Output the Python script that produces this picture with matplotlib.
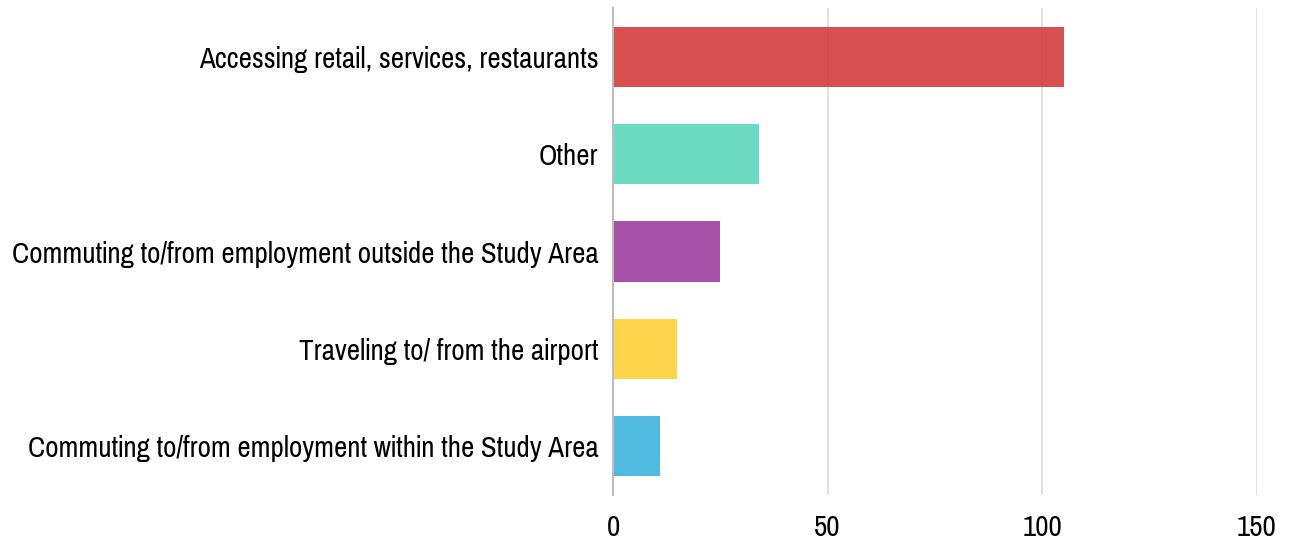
import matplotlib
matplotlib.use("Agg")
import matplotlib.pyplot as plt

# Trip purposes, top to bottom as listed
purposes = [
    "Accessing retail, services, restaurants",
    "Other",
    "Commuting to/from employment outside the Study Area",
    "Traveling to/ from the airport",
    "Commuting to/from employment within the Study Area",
]
responses = [105, 34, 25, 15, 11]
colors = ["#d43c3e", "#5dd6bc", "#9e3d9e", "#fdd13a", "#3db3de"]
x_ticks = [0, 50, 100, 150]

plt.rcParams["font.family"] = ["Pragati Narrow", "Liberation Sans", "DejaVu Sans"]

fig = plt.figure(figsize=(12.89, 5.48), dpi=100)
ax = fig.add_axes([0.4756, 0.097, 0.4994, 0.888])

ypos = list(range(len(purposes)))
ax.barh(ypos, responses, height=0.62, color=colors, alpha=0.9, zorder=2)

ax.set_ylim(len(purposes) - 0.5, -0.5)
ax.set_xlim(0, 150)
ax.set_yticks(ypos)
ax.set_yticklabels(purposes)
ax.set_xticks(x_ticks)

ax.grid(axis="x", color="#dcdcdc", linewidth=1.2, zorder=0)
for side in ["top", "right", "bottom"]:
    ax.spines[side].set_visible(False)
ax.spines["left"].set_color("#bdbdbd")
ax.spines["left"].set_linewidth(1.5)
ax.spines["left"].set_zorder(3)

ax.tick_params(axis="y", length=0, pad=10.5, labelsize=22.7)
ax.tick_params(axis="x", length=0, pad=14, labelsize=22.7)

fig.savefig("out.png", dpi=100)
